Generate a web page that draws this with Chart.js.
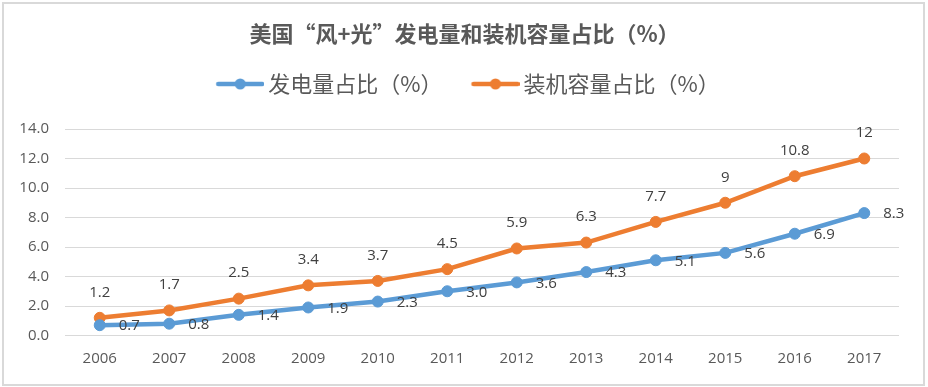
<!DOCTYPE html>
<html>
<head>
<meta charset="utf-8">
<script src="https://cdn.jsdelivr.net/npm/chart.js@4/dist/chart.umd.min.js"></script>
<style>
html,body{margin:0;padding:0;background:#fff;}
canvas{display:block;}
</style>
</head>
<body>
<canvas id="c" width="928" height="387"></canvas>
<script>
// ---- data ----
const years = ['2006','2007','2008','2009','2010','2011','2012','2013','2014','2015','2016','2017'];
const genShare = [0.7, 0.8, 1.4, 1.9, 2.3, 3.0, 3.6, 4.3, 5.1, 5.6, 6.9, 8.3];
const capShare = [1.2, 1.7, 2.5, 3.4, 3.7, 4.5, 5.9, 6.3, 7.7, 9, 10.8, 12];
const seriesNames = ['发电量占比（%）', '装机容量占比（%）'];
const chartTitle = '美国“风+光”发电量和装机容量占比（%）';
const yMin = 0, yMax = 14, yStep = 2;

// ---- styles ----
const BLUE = '#5B9BD5';
const ORANGE = '#ED7D31';
const TEXT = '#595959';
const LABEL = '#404040';
const GRID = '#D9D9D9';
const NUM_FONT = '"Open Sans", "Liberation Sans", sans-serif';
const CJK_FONT = '"Noto Sans CJK SC", "Noto Sans", sans-serif';

function legendMark(color) {
  const c = document.createElement('canvas');
  c.width = 62; c.height = 14;
  const g = c.getContext('2d');
  g.strokeStyle = color; g.lineWidth = 4.5; g.lineCap = 'round';
  g.beginPath(); g.moveTo(16, 7); g.lineTo(60, 7); g.stroke();
  g.fillStyle = color;
  g.beginPath(); g.arc(38, 7, 5.5, 0, Math.PI * 2); g.fill();
  return c;
}
const legendMarks = [legendMark(BLUE), legendMark(ORANGE)];

// label placement per dataset: 'right' or 'top'
const labelPlacement = ['right', 'top'];
const labelFormat = [v => v.toFixed(1), v => String(v)];

const framePlugin = {
  id: 'frame',
  beforeDraw(chart) {
    const ctx = chart.ctx;
    ctx.save();
    ctx.fillStyle = '#fff';
    ctx.fillRect(0, 0, chart.width, chart.height);
    ctx.strokeStyle = '#D9D9D9';
    ctx.lineWidth = 2;
    ctx.strokeRect(3, 3, 921, 382);
    ctx.restore();
  }
};

const valueLabels = {
  id: 'valueLabels',
  afterDatasetsDraw(chart) {
    const ctx = chart.ctx;
    ctx.save();
    ctx.font = '15px ' + NUM_FONT;
    ctx.fillStyle = LABEL;
    ctx.textBaseline = 'middle';
    chart.data.datasets.forEach((ds, i) => {
      const meta = chart.getDatasetMeta(i);
      meta.data.forEach((pt, j) => {
        const txt = labelFormat[i](ds.data[j]);
        if (labelPlacement[i] === 'right') {
          ctx.textAlign = 'left';
          ctx.fillText(txt, pt.x + 19, pt.y + 1);
        } else {
          ctx.textAlign = 'center';
          ctx.fillText(txt, pt.x, pt.y - 25.5);
        }
      });
    });
    ctx.restore();
  }
};

new Chart(document.getElementById('c'), {
  type: 'line',
  data: {
    labels: years,
    datasets: [
      {
        label: seriesNames[0], data: genShare,
        borderColor: BLUE, backgroundColor: BLUE,
        borderWidth: 4.5, pointRadius: 5.5, pointBorderWidth: 1,
        pointBackgroundColor: BLUE, pointBorderColor: BLUE, tension: 0
      },
      {
        label: seriesNames[1], data: capShare,
        borderColor: ORANGE, backgroundColor: ORANGE,
        borderWidth: 4.5, pointRadius: 5.5, pointBorderWidth: 1,
        pointBackgroundColor: ORANGE, pointBorderColor: ORANGE, tension: 0
      }
    ]
  },
  options: {
    responsive: false,
    animation: false,
    devicePixelRatio: 1,
    events: [],
    layout: { padding: { left: 15, right: 14, top: 0, bottom: 0 } },
    plugins: {
      tooltip: { enabled: false },
      title: {
        display: true, text: chartTitle, color: TEXT,
        font: { family: CJK_FONT, size: 22, weight: 'bold', lineHeight: 1.2 },
        padding: { top: 20.8, bottom: 3.8 }, weight: 2000
      },
      legend: {
        display: true, position: 'top', weight: 1000,
        labels: {
          usePointStyle: true, pointStyleWidth: 48, padding: 22,
          color: TEXT, font: { family: CJK_FONT, size: 22 },
          generateLabels(chart) {
            const items = Chart.defaults.plugins.legend.labels.generateLabels(chart);
            items.forEach((it, k) => { it.pointStyle = legendMarks[k]; });
            return items;
          }
        }
      },
      subtitle: {
        display: true, text: ' ', weight: 500,
        font: { size: 10, lineHeight: 1 },
        padding: { top: 14, bottom: 0 }
      }
    },
    scales: {
      x: {
        offset: true,
        grid: { display: false, drawTicks: false },
        border: { display: false },
        ticks: { color: TEXT, font: { family: NUM_FONT, size: 15 }, padding: 14, maxRotation: 0 },
        afterFit(scale) { scale.height = 51.5; }
      },
      y: {
        min: yMin, max: yMax,
        grid: { color: GRID, lineWidth: 1, drawTicks: false },
        border: { display: false },
        ticks: {
          stepSize: yStep, color: TEXT, padding: 16,
          font: { family: NUM_FONT, size: 15 },
          callback: v => Number(v).toFixed(1)
        },
        afterFit(scale) { scale.width = 50; }
      },
      ySpacer: {
        position: 'right', min: yMin, max: yMax,
        grid: { display: false, drawTicks: false },
        border: { display: false },
        ticks: { display: false },
        afterFit(scale) { scale.width = 15; }
      }
    }
  },
  plugins: [framePlugin, valueLabels]
});
</script>
</body>
</html>
